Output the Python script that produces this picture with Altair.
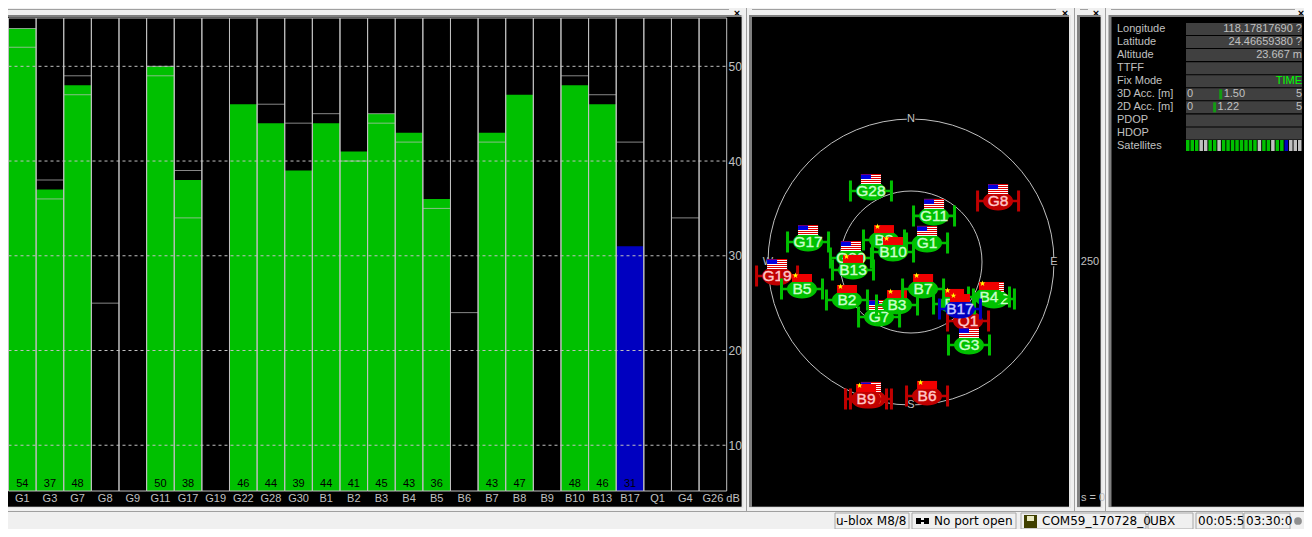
import altair as alt
import pandas as pd

# ---------- data ----------
sats = ["G1","G3","G7","G8","G9","G11","G17","G19","G22","G28","G30","B1","B2","B3","B4","B5",
        "B6","B7","B8","B9","B10","B13","B17","Q1","G4","G26"]
cn =   [54,37,48,0,0,50,38,0,46,44,39,44,41,45,43,36,0,43,47,0,48,46,31,0,0,0]
used = ["green","green","green","gray","gray","green","green","gray","green","green","green","green",
        "green","green","green","green","gray","green","green","gray","green","green","blue","gray","gray","gray"]
level_a = [54,38,49,25,None,50,39,None,None,46,44,45,None,45,None,None,24,None,None,None,49,47,42,None,34,None]
level_b = [52,36,47,None,None,49,34,None,None,None,None,None,40,44,42,35,None,42,None,None,None,None,None,None,None,None]
grid_db = [10,20,30,40,50]

# sky positions, degrees east / north of the zenith on the plot (90 = horizon)
draw_order = ["G8","G9","G19","Q1","B6","B9","G28","G11","G17","G1","G22","G30","G3","G7","B1","B2","B3",
              "B4","B5","B7","B8","B10","B13","B17"]
sky_east  = [54.8,-25.2,-84.3,35.9,10.1,-28.3,-25.2,14.5,-64.8,10.1,52.2,-37.8,36.5,-20.1,27.1,-40.3,-8.8,
             49.1,-68.6,7.6,-17.0,-11.3,-36.5,30.8]
sky_north = [38.4,-86.2,-8.8,-37.1,-84.3,-86.2,44.7,29.0,12.6,12.0,-23.3,2.5,-52.2,-34.6,-26.4,-23.9,-27.1,
             -22.0,-17.0,-17.0,13.8,6.3,-5.0,-29.6]
compass = ["N","E","S","W"]
compass_east = [0,90,0,-90]
compass_north = [90,0,-90,0]

rows = ["Longitude","Latitude","Altitude","TTFF","Fix Mode","3D Acc. [m]","2D Acc. [m]","PDOP","HDOP","Satellites"]
row_values = ["118.17817690 ?","24.46659380 ?","23.667 m","","TIME","5","5","","",""]
gauge_rows = ["3D Acc. [m]","2D Acc. [m]"]
gauge_vals = [1.50,1.22]
gauge_text = ["1.50","1.22"]

# ---------- helpers ----------
LIGHT = "#c0c0c0"
GREEN = "#00c000"
ONE = alt.Data(values=[{"_":0}])
SANS = "Liberation Sans"

def box(x0,y0,x1,y1,fill,stroke=None):
    kw = dict(fill=fill)
    if stroke:
        kw.update(stroke=stroke, strokeWidth=1)
    return alt.Chart(ONE).mark_rect(**kw).encode(
        x=alt.value(x0-8), x2=alt.value(x1-8), y=alt.value(y0-8), y2=alt.value(y1-8))

def label(x,y,s,color=LIGHT,size=11,align="left",font=SANS,weight="normal"):
    return alt.Chart(ONE).mark_text(color=color,fontSize=size,align=align,baseline="middle",font=font,
                                    fontWeight=weight).encode(
        x=alt.value(x-8), y=alt.value(y-8), text=alt.value(s))

def panel(x0,x1):
    return [box(x0-3,15,x1+2,508,"#e4e4e4"), box(x0-3,15,x1,507,"#808080"), box(x0,17,x1,506.5,"#000000")]

chrome = []
for x0,x1,cx in [(6,729,737),(752,1056,1065),(1080,1088,1096),(1111,1295,1301)]:
    chrome.append(box(x0,9,x1,10,"#a0a0a0"))
    chrome.append(label(cx,13.5,"×","#000000",11,"center",weight="bold"))
for x0,x1 in [(8,741.5),(752,1069),(1080,1100.5),(1111.5,1308)]:
    chrome += panel(x0,x1)
for x in [746,1074,1105]:
    chrome.append(box(x,0,x+1,511,"#a0a0a0"))
chrome.append(box(0,511,1312,512,"#a0a0a0"))

# status bar
for x0,x1 in [(835,909),(912,1016),(1021,1146),(1148,1193),(1196,1243),(1244,1290)]:
    chrome.append(box(x0,513,x1,529,"#f0f0f0","#a8a8a8"))
DJ = "DejaVu Sans"
chrome += [
    label(836,521,"u-blox M8/8","#000000",12,font=DJ),
    label(934,521,"No port open","#000000",12,font=DJ),
    label(1042,521,"COM59_170728_0","#000000",12,font=DJ),
    label(1150,521,"UBX","#000000",12,font=DJ),
    label(1198,521,"00:05:5","#000000",12,font=DJ),
    label(1246,521,"03:30:0","#000000",12,font=DJ),
    box(1024,515,1037,528,"#404000"), box(1027,516,1034,521,"#e8e8c0"),
    box(916,518,921,524,"#000000"), box(924,518,929,524,"#000000"), box(921,520,924,522,"#000000"),
    alt.Chart(ONE).mark_point(shape="circle",size=60,filled=True,color="#909090",opacity=1).encode(
        x=alt.value(1298-8), y=alt.value(521-8)),
    label(1090,262,"250",LIGHT,11,"center"),
    label(1081,498,"s = 0",LIGHT,11),
]

# ---------- signal bars ----------
df = pd.DataFrame(dict(sat=sats,cn=cn,used=used,a=level_a,b=level_b))
FLOOR = 5.17
CEIL = 55.1
x_bar = alt.Scale(type="band",domain=sats,range=[0.5,718.7],paddingInner=0,paddingOuter=0)
y_db = alt.Scale(domain=[FLOOR,CEIL],range=[483,10],nice=False,zero=False)
x_axis = alt.Axis(orient="bottom",offset=-38,title=None,domain=False,ticks=False,labelAngle=0,zindex=1,
                  labelColor=LIGHT,labelFont=SANS,labelFontSize=11,labelPadding=1,labelBaseline="top")
y_axis = alt.Axis(orient="right",offset=-578,title=None,domain=False,ticks=False,grid=False,zindex=1,
                  values=grid_db,labelColor=LIGHT,labelFont=SANS,labelFontSize=12,labelPadding=2)
X_BAR = alt.X("sat:N",scale=x_bar,axis=x_axis,sort=None)
fill_map = alt.Scale(domain=["green","blue"],range=[GREEN,"#0000c0"])

bars = alt.Chart(df[df.cn>0]).mark_bar(strokeWidth=0).encode(
    x=X_BAR, y=alt.Y("cn:Q",scale=y_db,axis=y_axis), y2=alt.datum(FLOOR),
    color=alt.Color("used:N",scale=fill_map,legend=None))
cells = alt.Chart(df).mark_bar(filled=False,stroke=LIGHT,strokeWidth=1).encode(
    x=X_BAR, y=alt.datum(CEIL,scale=y_db,axis=y_axis), y2=alt.datum(FLOOR))
tick_a = alt.Chart(df.dropna(subset=["a"])).mark_tick(orient="horizontal",size=27.6,thickness=1,color=LIGHT).encode(
    x=X_BAR, y=alt.Y("a:Q",scale=y_db,axis=y_axis))
tick_b = alt.Chart(df.dropna(subset=["b"])).mark_tick(orient="horizontal",size=27.6,thickness=1,color=LIGHT).encode(
    x=X_BAR, y=alt.Y("b:Q",scale=y_db,axis=y_axis))
grid = alt.Chart(pd.DataFrame(dict(db=grid_db))).mark_rule(color=LIGHT,strokeWidth=1,strokeDash=[3,3]).encode(
    x=alt.value(0.5), x2=alt.value(718.7),
    y=alt.Y("db:Q",scale=y_db,axis=y_axis))
nums = alt.Chart(df[df.cn>0]).mark_text(color="#000000",font=SANS,fontSize=11,baseline="middle").encode(
    x=X_BAR, y=alt.value(476), text=alt.Text("cn:Q"))
db_unit = label(733,499,"dB",LIGHT,11,"center")
bar_layer = alt.layer(bars,cells,tick_a,tick_b,grid,nums)

# ---------- sky view ----------
sky = pd.DataFrame(dict(name=draw_order,east=sky_east,north=sky_north))
sky["state"] = [used[sats.index(n)] for n in draw_order]
x_sky = alt.Scale(domain=[-90,90],range=[760,1046],nice=False,zero=False)
y_sky = alt.Scale(domain=[-90,90],range=[397,111],nice=False,zero=False)
SX = alt.X("east:Q",scale=x_sky,axis=None)
SY = alt.Y("north:Q",scale=y_sky,axis=None)

def ring(diam):
    return alt.Chart(pd.DataFrame(dict(east=[0],north=[0]))).mark_point(
        shape="circle",size=diam*diam,filled=False,stroke=LIGHT,strokeWidth=1,opacity=1).encode(x=SX,y=SY)

comp_df = pd.DataFrame(dict(t=compass,east=compass_east,north=compass_north))
comp_bg = alt.Chart(comp_df).mark_point(shape="square",size=70,filled=True,color="#000000",opacity=1).encode(x=SX,y=SY)
comp_tx = alt.Chart(comp_df).mark_text(color=LIGHT,font=SANS,fontSize=11,baseline="middle").encode(x=SX,y=SY,text="t:N")

SAT_SHAPE = ("M-15,0A15,9.5,0,1,1,15,0A15,9.5,0,1,1,-15,0Z"
             "M-21,-1.3H21V1.3H-21Z"
             "M-22,-10.5H-19V10.5H-22Z"
             "M19,-10.5H22V10.5H19Z")
US_WHITE = "M-10,-17H10V-7H-10Z"
US_RED = "".join(f"M-10,{y}H10V{y+1}H-10Z" for y in (-17,-15,-13,-11,-9))
US_BLUE = "M-10,-16.5H0V-12H-10Z"
CN_RED = "M-10,-15H10V-7H-10Z"
CN_STAR = "M-6.5,-16.5L-5.8,-14.4L-3.6,-14.4L-5.4,-13.1L-4.7,-11L-6.5,-12.3L-8.3,-11L-7.6,-13.1L-9.4,-14.4L-7.2,-14.4Z"
BODY = {"green":GREEN,"gray":"#c00000","blue":"#0000c0"}
TEXT = {"green":"#c8ffc8","gray":"#ffc8c8","blue":"#c8c8ff"}

def sym(name,path,color):
    return alt.Chart().transform_filter(alt.datum.name==name).mark_point(
        shape=path,size=4,filled=True,color=color,opacity=1,strokeWidth=0).encode(x=SX,y=SY)

sky_marks = [ring(286),ring(142),comp_bg,comp_tx]
for n,st in zip(draw_order,sky.state):
    sky_marks.append(sym(n,SAT_SHAPE,BODY[st]))
    if n[0]=="G":
        sky_marks += [sym(n,US_WHITE,"#ffffff"),sym(n,US_RED,"#e00000"),sym(n,US_BLUE,"#0000e0")]
    elif n[0]=="B":
        sky_marks += [sym(n,CN_RED,"#f00000"),sym(n,CN_STAR,"#ffff00")]
    sky_marks.append(alt.Chart().transform_filter(alt.datum.name==n).mark_text(
        color=TEXT[st],stroke=TEXT[st],strokeWidth=0.4,font=SANS,fontSize=15.5,baseline="middle").encode(
        x=SX,y=SY,text="name:N"))
sky_layer = alt.layer(*sky_marks,data=sky)

# ---------- info panel ----------
y_row = alt.Scale(type="band",domain=rows,range=[15,144.5],paddingInner=0.08,paddingOuter=0)
x_gauge = alt.Scale(domain=[0,5],range=[1180,1289],nice=False,zero=False)
info = pd.DataFrame(dict(row=rows,val=row_values))
info["color"] = ["#00ff00" if v=="TIME" else LIGHT for v in row_values]
RY = alt.Y("row:N",scale=y_row,axis=None,sort=None)
info_box = alt.Chart(info[info.row!="Satellites"]).mark_bar(color="#404040").encode(
    x=alt.value(1186-8),x2=alt.value(1302-8),y=RY)
info_lbl = alt.Chart(info).mark_text(color=LIGHT,font=SANS,fontSize=11,align="left",baseline="middle").encode(
    x=alt.value(1117-8),y=RY,text="row:N")
info_val = alt.Chart(info).mark_text(font=SANS,fontSize=11,align="right",baseline="middle").encode(
    x=alt.value(1302-8),y=RY,text="val:N",color=alt.Color("color:N",scale=None))
zero_lbl = alt.Chart(info[info.row.isin(gauge_rows)]).mark_text(color=LIGHT,font=SANS,fontSize=11,align="left",baseline="middle").encode(
    x=alt.value(1187-8),y=RY,text=alt.value("0"))
gauge = pd.DataFrame(dict(row=gauge_rows,v=gauge_vals,t=gauge_text))
gauge_tick = alt.Chart(gauge).mark_tick(orient="vertical",size=10,thickness=3,color=GREEN).encode(
    x=alt.X("v:Q",scale=x_gauge,axis=None),y=RY)
gauge_lbl = alt.Chart(gauge).mark_text(color=LIGHT,font=SANS,fontSize=11,align="left",baseline="middle",dx=3).encode(
    x=alt.X("v:Q",scale=x_gauge,axis=None),y=RY,text="t:N")
info_layer = alt.layer(info_box,info_lbl,info_val,zero_lbl,gauge_tick,gauge_lbl)

x_strip = alt.Scale(type="band",domain=sats,range=[1178,1293.5],paddingInner=0.22,paddingOuter=0)
strip_map = alt.Scale(domain=["green","gray","blue"],range=[GREEN,LIGHT,"#0000c0"])
strip = alt.Chart(df).mark_bar(strokeWidth=0).encode(
    x=alt.X("sat:N",scale=x_strip,axis=None,sort=None),
    y=alt.value(132),y2=alt.value(143),
    color=alt.Color("used:N",scale=strip_map,legend=None))

chart = alt.layer(*chrome,db_unit,bar_layer,sky_layer,info_layer,strip).resolve_scale(
    x="independent",y="independent",color="independent"
).properties(
    width=1296,height=521,padding=0,background="#f0f0f0",
    autosize=alt.AutoSizeParams(type="none",contains="padding")
).configure_view(stroke=None)

chart.save("out.html", embed_options={"renderer": "svg", "actions": False})
